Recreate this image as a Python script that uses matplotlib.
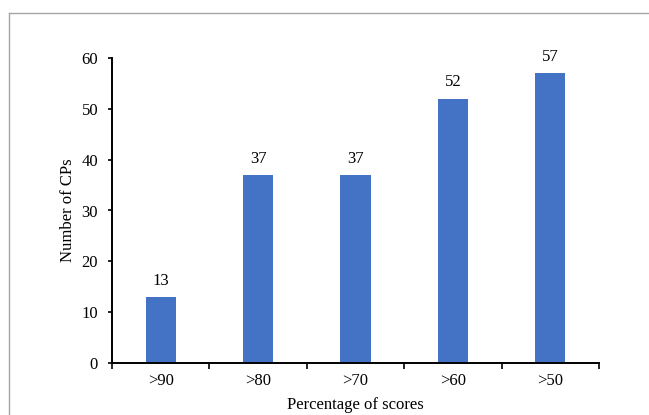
import matplotlib.pyplot as plt
from matplotlib.lines import Line2D
import numpy as np

categories = ['>90', '>80', '>70', '>60', '>50']
counts = [13, 37, 37, 52, 57]

plt.rcParams['font.family'] = 'Liberation Serif'
plt.rcParams['font.size'] = 12

fig = plt.figure(figsize=(6.49, 4.15), dpi=100)
ax = fig.add_axes([112 / 649, 1 - 363 / 415, 487 / 649, 305 / 415])

x = np.arange(len(categories))
bars = ax.bar(x, counts, width=0.31, color='#4472c4')
ax.bar_label(bars, padding=6, fontsize=12)

ax.set_xlim(-0.5, len(categories) - 0.5)
ax.set_ylim(0, 60)
ax.set_yticks(np.arange(0, 61, 10))

# category labels centred, tick marks on the boundaries between them
ax.set_xticks(x)
ax.set_xticklabels(categories)
ax.tick_params(axis='x', length=0, pad=7)
ax.set_xticks(np.arange(-0.5, len(categories), 1), minor=True)
ax.tick_params(axis='x', which='minor', direction='out', length=4, width=1.2)
ax.tick_params(axis='y', direction='out', length=3, width=1.2, pad=7)

for side in ['top', 'right']:
    ax.spines[side].set_visible(False)
for side in ['left', 'bottom']:
    ax.spines[side].set_linewidth(1.4)

ax.set_xlabel('Percentage of scores', fontsize=12, labelpad=6)
ax.set_ylabel('Number of CPs', fontsize=12, labelpad=4)

# frame around the chart area
fig.add_artist(Line2D([9 / 649, 9 / 649], [0, 1 - 13 / 415],
                      transform=fig.transFigure, color='#a6a6a6', lw=1))
fig.add_artist(Line2D([9 / 649, 1], [1 - 13 / 415, 1 - 13 / 415],
                      transform=fig.transFigure, color='#a6a6a6', lw=1))

fig.savefig('out.png', dpi=100)
